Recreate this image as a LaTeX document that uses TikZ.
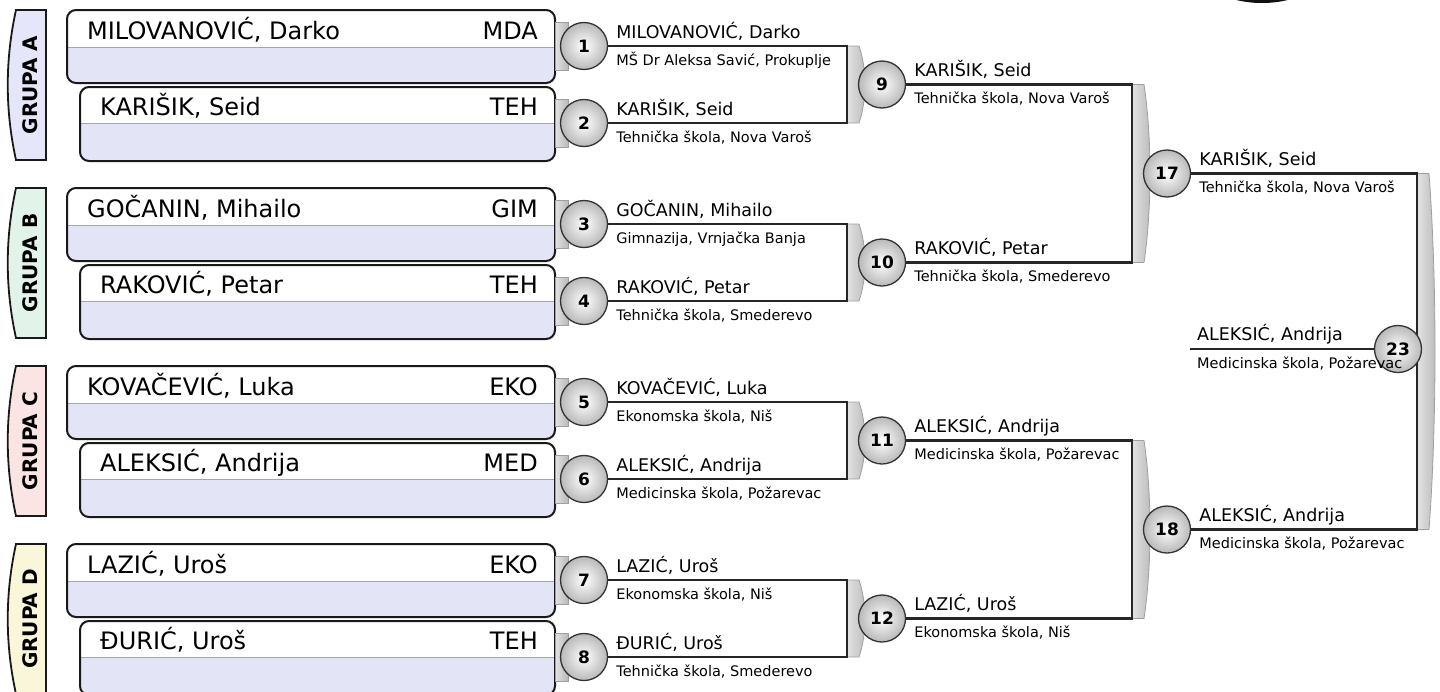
\documentclass[tikz,border=0pt]{standalone}
\usepackage{fontspec}
\setmainfont{DejaVu Sans}
\definecolor{lav}{HTML}{E4E4F7}
\definecolor{grpA}{HTML}{E6E6FA}
\definecolor{grpB}{HTML}{E2F3EA}
\definecolor{grpC}{HTML}{FBE4E4}
\definecolor{grpD}{HTML}{FAF6DA}
\tikzset{
  rnd/.style={circle, minimum size=47pt, inner sep=0pt, draw=black!80, line width=1.3pt,
    inner color=white, outer color=gray!55, font=\bfseries\fontsize{17}{17}\selectfont},
  conn/.style={line width=2.3pt, draw=black!85},
  tabshade/.style={draw=gray!75, line width=0.8pt, left color=gray!22, right color=gray!55},
  nm/.style={anchor=base west, inner sep=0pt, font=\fontsize{17.5}{18}\selectfont},
  sch/.style={anchor=base west, inner sep=0pt, font=\fontsize{14.5}{15}\selectfont},
  bname/.style={anchor=base west, inner sep=0pt, font=\fontsize{24}{24}\selectfont},
  bcode/.style={anchor=base east, inner sep=0pt, font=\fontsize{24}{24}\selectfont},
  boxborder/.style={draw=black!90, line width=2pt},
  grplab/.style={rotate=90, inner sep=0pt, font=\bfseries\fontsize{20}{20}\selectfont},
}
\newcommand\pbox[7]{%
  \begin{scope}
    \clip[rounded corners=9pt] (#1,#2) rectangle (555,#4);
    \fill[lav] (#1,#2) rectangle (555,#4);
    \fill[white] (#1,#2) rectangle (555,#3);
    \draw[gray!70, line width=1pt] (#1,#3) -- (555,#3);
  \end{scope}
  \draw[boxborder, rounded corners=9pt] (#1,#2) rectangle (555,#4);
  \node[bname] (n#7) at (#1+20,#3-8) {#5};
  \node[bcode] (k#7) at (538,#3-8) {#6};
}
\newcommand\grp[4]{%
  \filldraw[fill=#3, draw=black!90, line width=1.8pt]
    (46,#1) -- (16,#1) .. controls (5,#1+50) and (5,#1+100) .. (16,#1+150) -- (46,#1+150) -- cycle;
  \node[grplab] (g#4) at (30,#1+75) {#2};
}
\newcommand\strip[3]{% x, ytop, ybottom
  \path[tabshade] (#1,#2) -- (#1+12,#2) .. controls (#1+20,#2+0.3*#3-0.3*#2) and (#1+20,#3-0.3*#3+0.3*#2) .. (#1+12,#3) -- (#1,#3) -- cycle;
}
\newcommand\wlab[4]{%
  \node[nm] (wn#4) at ([xshift=8pt,yshift=8pt]#1.east) {#2};
  \node[sch] (ws#4) at ([xshift=8pt,yshift=-19pt]#1.east) {#3};
}
\begin{document}
\begin{tikzpicture}[x=1pt,y=-1pt]
\useasboundingbox (0,0) rectangle (1440,691);
% top right decoration
\shade[top color=black!55, bottom color=black!95] (1262,-28) ellipse [x radius=60, y radius=31];
% groups
\grp{10}{GRUPA A}{grpA}{a}
\grp{188}{GRUPA B}{grpB}{b}
\grp{366}{GRUPA C}{grpC}{c}
\grp{544}{GRUPA D}{grpD}{d}
% player boxes
\pbox{67}{10}{47}{83}{MILOVANOVIĆ, Darko}{MDA}{1}
\pbox{80}{87}{123}{161}{KARIŠIK, Seid}{TEH}{2}
\pbox{67}{188}{225}{261}{GOČANIN, Mihailo}{GIM}{3}
\pbox{80}{265}{301}{339}{RAKOVIĆ, Petar}{TEH}{4}
\pbox{67}{366}{403}{439}{KOVAČEVIĆ, Luka}{EKO}{5}
\pbox{80}{443}{479}{517}{ALEKSIĆ, Andrija}{MED}{6}
\pbox{67}{544}{581}{617}{LAZIĆ, Uroš}{EKO}{7}
\pbox{80}{621}{657}{695}{ĐURIĆ, Uroš}{TEH}{8}
% tabs round 1
\foreach \yy in {46,123,224,301,402,479,580,657}{
  \path[tabshade] (555,\yy-24) rectangle (568,\yy+24);
}
% strips (brackets)
\strip{847}{46}{123}
\strip{847}{224}{301}
\strip{847}{402}{479}
\strip{847}{580}{657}
\strip{1132}{84.5}{262.5}
\strip{1132}{440.5}{618.5}
\strip{1417}{173.5}{529.5}
% bracket coordinates
\coordinate (b9) at (847,84.5);
\coordinate (b10) at (847,262.5);
\coordinate (b11) at (847,440.5);
\coordinate (b12) at (847,618.5);
\coordinate (b17) at (1132,173.5);
\coordinate (b18) at (1132,529.5);
\coordinate (b23) at (1417,351.5);
\coordinate (s23) at (1190,349);
% circles
\node[rnd] (c1) at (584,46) {1};
\node[rnd] (c2) at (584,123) {2};
\node[rnd] (c3) at (584,224) {3};
\node[rnd] (c4) at (584,301) {4};
\node[rnd] (c5) at (584,402) {5};
\node[rnd] (c6) at (584,479) {6};
\node[rnd] (c7) at (584,580) {7};
\node[rnd] (c8) at (584,657) {8};
\node[rnd] (c9) at (882,84.5) {9};
\node[rnd] (c10) at (882,262.5) {10};
\node[rnd] (c11) at (882,440.5) {11};
\node[rnd] (c12) at (882,618.5) {12};
\node[rnd] (c17) at (1167,173.5) {17};
\node[rnd] (c18) at (1167,529.5) {18};
% connectors
\draw[conn] (c1.east) -- (c1.east -| b9) |- (c2.east);
\draw[conn] (c3.east) -- (c3.east -| b10) |- (c4.east);
\draw[conn] (c5.east) -- (c5.east -| b11) |- (c6.east);
\draw[conn] (c7.east) -- (c7.east -| b12) |- (c8.east);
\draw[conn] (c9.east) -- (c9.east -| b17) |- (c10.east);
\draw[conn] (c11.east) -- (c11.east -| b18) |- (c12.east);
\draw[conn] (c17.east) -- (c17.east -| b23) |- (c18.east);
\node[rnd] (c23) at (1398,349) {23};
\draw[conn] (s23) -- (c23.west);
% winner labels
\wlab{c1}{MILOVANOVIĆ, Darko}{MŠ Dr Aleksa Savić, Prokuplje}{1}
\wlab{c2}{KARIŠIK, Seid}{Tehnička škola, Nova Varoš}{2}
\wlab{c3}{GOČANIN, Mihailo}{Gimnazija, Vrnjačka Banja}{3}
\wlab{c4}{RAKOVIĆ, Petar}{Tehnička škola, Smederevo}{4}
\wlab{c5}{KOVAČEVIĆ, Luka}{Ekonomska škola, Niš}{5}
\wlab{c6}{ALEKSIĆ, Andrija}{Medicinska škola, Požarevac}{6}
\wlab{c7}{LAZIĆ, Uroš}{Ekonomska škola, Niš}{7}
\wlab{c8}{ĐURIĆ, Uroš}{Tehnička škola, Smederevo}{8}
\wlab{c9}{KARIŠIK, Seid}{Tehnička škola, Nova Varoš}{9}
\wlab{c10}{RAKOVIĆ, Petar}{Tehnička škola, Smederevo}{10}
\wlab{c11}{ALEKSIĆ, Andrija}{Medicinska škola, Požarevac}{11}
\wlab{c12}{LAZIĆ, Uroš}{Ekonomska škola, Niš}{12}
\wlab{c17}{KARIŠIK, Seid}{Tehnička škola, Nova Varoš}{17}
\wlab{c18}{ALEKSIĆ, Andrija}{Medicinska škola, Požarevac}{18}
\node[nm] (wn23) at ([xshift=7pt,yshift=9pt]s23) {ALEKSIĆ, Andrija};
\node[sch] (ws23) at ([xshift=7pt,yshift=-19pt]s23) {Medicinska škola, Požarevac};
\end{tikzpicture}
\end{document}
